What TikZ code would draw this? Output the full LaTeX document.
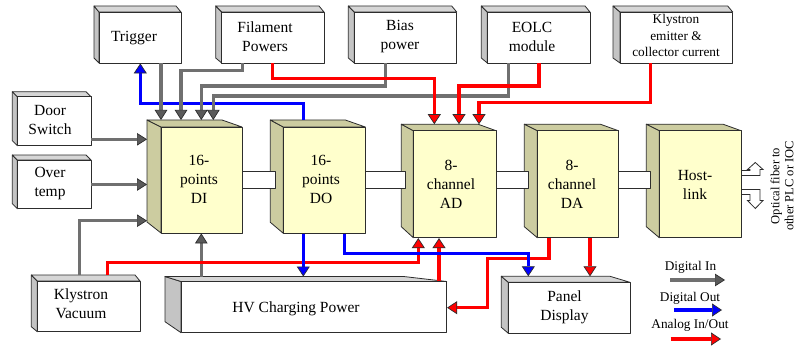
\documentclass[tikz,border=0pt]{standalone}
\usepackage{fontspec}
\setmainfont{Liberation Serif}
\usetikzlibrary{arrows.meta,fit,calc}
\definecolor{wside}{RGB}{196,196,196}
\definecolor{wtop}{RGB}{214,214,214}
\definecolor{yfront}{RGB}{255,255,204}
\definecolor{yside}{RGB}{204,204,160}
\definecolor{edge}{RGB}{45,45,45}
\definecolor{dig}{RGB}{112,112,112}
\definecolor{digtip}{RGB}{90,90,90}
\definecolor{dblue}{RGB}{0,0,255}
\definecolor{ared}{RGB}{255,0,0}
\newcommand\tdinset{5}
\newcommand\tdbox[9]{%
  \coordinate (#2-nw) at (#3,#4);
  \coordinate (#2-se) at (#5,#6);
  \coordinate (#2-back) at ({#3},{#4-#8});
  \coordinate (#2-side) at ({#3-#7},{#4});
  \filldraw[#1 side] (#3,#4) -- ({#3-#7},{#4-#8}) -- ({#3-#7},{#6-#9}) -- (#3,#6) -- cycle;
  \filldraw[#1 top] (#3,#4) -- ({#3-#7},{#4-#8}) -- ({#5-\tdinset},{#4-#8}) -- (#5,#4) -- cycle;
  \node[#1 front, fit=(#2-nw)(#2-se)] (#2) {};
}
\tikzset{
  boxline/.style={draw=edge, line width=0.8pt, line join=round},
  wb side/.style={boxline, fill=wside},
  wb top/.style={boxline, fill=wtop},
  wb front/.style={boxline, fill=white, inner sep=0pt},
  yb side/.style={boxline, fill=yside},
  yb top/.style={boxline, fill=yside},
  yb front/.style={boxline, fill=yfront, inner sep=0pt},
  bus/.style={boxline, fill=white},
  hollow/.style={boxline, fill=white, line join=miter},
  lbl/.style={font=\fontsize{15.5}{19}\selectfont, align=center, inner sep=0pt},
  small/.style={font=\fontsize{13.3}{16.5}\selectfont, align=center, inner sep=0pt},
  wire/.style={line width=3.2pt, line join=miter},
  din/.style={wire, draw=dig, -{Triangle[width=12.5pt,length=10pt,fill=digtip,color=edge,line width=0.7pt]}},
  dout/.style={wire, draw=dblue, -{Triangle[width=13pt,length=10pt,fill=dblue,color=edge,line width=0.7pt]}},
  aio/.style={wire, draw=ared, -{Triangle[width=13pt,length=10pt,fill=ared,color=edge,line width=0.7pt]}},
}
\begin{document}
\begin{tikzpicture}[x=1pt,y=-1pt]
\useasboundingbox (0,0) rectangle (797,350);
\fill[white] (0,0) rectangle (797,350);
% white boxes
\tdbox{wb}{trig}{99}{12}{181}{63}{5}{6}{5}
\tdbox{wb}{fil}{221.7}{12}{324}{63}{6}{6}{5}
\tdbox{wb}{bias}{354.3}{12}{456.7}{63}{6}{6}{5}
\tdbox{wb}{eolc}{487.3}{12}{590}{63}{6}{6}{5}
\tdbox{wb}{kem}{620}{12}{732.7}{63}{7}{6}{5}
\tdbox{wb}{door}{17.3}{96.7}{91}{145.7}{5}{5}{5}
\tdbox{wb}{over}{17.3}{160}{91}{208.7}{5}{5}{5}
\tdbox{wb}{kvac}{37.3}{281}{140}{331.7}{6}{6}{5}
\def\tdinset{43}
\tdbox{wb}{hv}{181}{281.5}{446.7}{332.7}{16}{5}{11}
\def\tdinset{20}
\tdbox{wb}{pan}{508.3}{282.3}{630}{333.3}{7}{6}{6}
% modules
\tdbox{yb}{di}{161}{127}{242}{233}{14}{7}{11}
\tdbox{yb}{do}{283.3}{127}{365.3}{233.3}{13}{7}{11}
\def\tdinset{18}
\tdbox{yb}{ad}{413.3}{130.7}{496}{237.7}{12}{6.5}{11}
\tdbox{yb}{da}{537.3}{130.7}{618.3}{237.7}{13}{6.5}{11}
\tdbox{yb}{host}{659.3}{130.7}{741}{237.7}{13}{6.5}{11}
% buses between modules
\draw[bus] (di.east |- 0,171.5) rectangle (275,188);
\draw[bus] (do.east |- 0,171.5) rectangle (405,188);
\draw[bus] (ad.east |- 0,171.5) rectangle (528.3,188);
\draw[bus] (da.east |- 0,171.5) rectangle (650.7,188);
% optical fiber arrows
\draw[hollow] (host.east |- 0,170.5) -- (750,170.5) -- (750,169.5) -- (747.5,169.5) -- (755.3,162.5) -- (763,169.5) -- (760,169.5) -- (760,175.5) -- (host.east |- 0,175.5) -- cycle;
\draw[hollow] (host.east |- 0,194.5) -- (750,194.5) -- (750,200.5) -- (747.5,200.5) -- (755.3,208.5) -- (763,200.5) -- (760,200.5) -- (760,189.5) -- (host.east |- 0,189.5) -- cycle;
% labels
\node[lbl] (trig-l) at (134,38.5) {Trigger};
\node[lbl] (fil-l) at (265,37) {Filament\\Powers};
\node[lbl] (bias-l) at (400,37) {Bias\\power};
\node[lbl] (eolc-l) at (532,37) {EOLC\\module};
\node[small] (kem-l) at (676,35.5) {Klystron\\emitter \&\\collector current};
\node[lbl] (door-l) at (50,120.5) {Door\\Switch};
\node[lbl] (over-l) at (50,183.5) {Over\\temp};
\node[lbl] (kvac-l) at (81,304) {Klystron\\Vacuum};
\node[lbl] (hv-l) at (296,308.5) {HV Charging Power};
\node[lbl] (pan-l) at (564.5,307.5) {Panel\\Display};
\node[lbl] (di-l) at (199,179) {16-\\points\\DI};
\node[lbl] (do-l) at (321,179) {16-\\points\\DO};
\node[lbl] (ad-l) at (451,184) {8-\\channel\\AD};
\node[lbl] (da-l) at (572,184) {8-\\channel\\DA};
\node[lbl] (host-l) at (695,185) {Host-\\link};
\node[font=\fontsize{12.5}{14}\selectfont, align=center, rotate=90, inner sep=0pt] (fib-l) at (782,186) {Optical fiber to\\other PLC or IOC};
% digital out (behind grey)
\draw[dout] (303.3,0 |- do-back) |- (140.3,103.3) -- (140.3,0 |- trig.south);
% digital in
\draw[din] (161,0 |- trig.south) -- (161,0 |- di-back);
\draw[din] (242.7,0 |- fil.south) |- (181,70.7) -- (181,0 |- di-back);
\draw[din] (385.7,0 |- bias.south) |- (201.3,86) -- (201.3,0 |- di-back);
\draw[din] (508.3,0 |- eolc.south) |- (213.3,96) -- (213.3,0 |- di-back);
\draw[din] (door.east |- 0,139.3) -- (di-side |- 0,139.3);
\draw[din] (over.east |- 0,184.5) -- (di-side |- 0,184.5);
\draw[din] (79.3,0 |- kvac-back) |- (di-side |- 0,220.7);
\draw[din] (201.3,0 |- hv-back) -- (201.3,0 |- di.south);
% analog
\draw[aio] (272.7,0 |- fil.south) |- (434.3,78.3) -- (434.3,0 |- ad-back);
\draw[aio] (539,0 |- eolc.south) |- (459,86) -- (459,0 |- ad-back);
\draw[aio] (650.7,0 |- kem.south) |- (479,102.7) -- (479,0 |- ad-back);
\draw[aio] (107.3,0 |- kvac-back) |- (418.3,262.7) -- (418.3,0 |- ad.south);
\draw[aio] (439,0 |- hv.north) -- (439,0 |- ad.south);
\draw[aio] (549,0 |- da.south) |- (487.7,258.3) |- (hv.east |- 0,307.7);
\draw[aio] (590,0 |- da.south) -- (590,0 |- pan-back);
% digital out
\draw[dout] (303.3,0 |- do.south) -- (303.3,0 |- hv-back);
\draw[dout] (344.3,0 |- do.south) |- (528.3,253.3) -- (528.3,0 |- pan-back);
% legend
\node[small] (lg1) at (690.5,267.5) {Digital In};
\node[small] (lg2) at (690,298.5) {Digital Out};
\node[small] (lg3) at (690,325) {Analog In/Out};
\coordinate (lg1a) at (670,280); \coordinate (lg1b) at (725,280);
\coordinate (lg2a) at (674,310); \coordinate (lg2b) at (722,310);
\coordinate (lg3a) at (670.7,339); \coordinate (lg3b) at (721,339);
\draw[din] (lg1a) -- (lg1b);
\draw[dout] (lg2a) -- (lg2b);
\draw[aio] (lg3a) -- (lg3b);
\end{tikzpicture}
\end{document}
